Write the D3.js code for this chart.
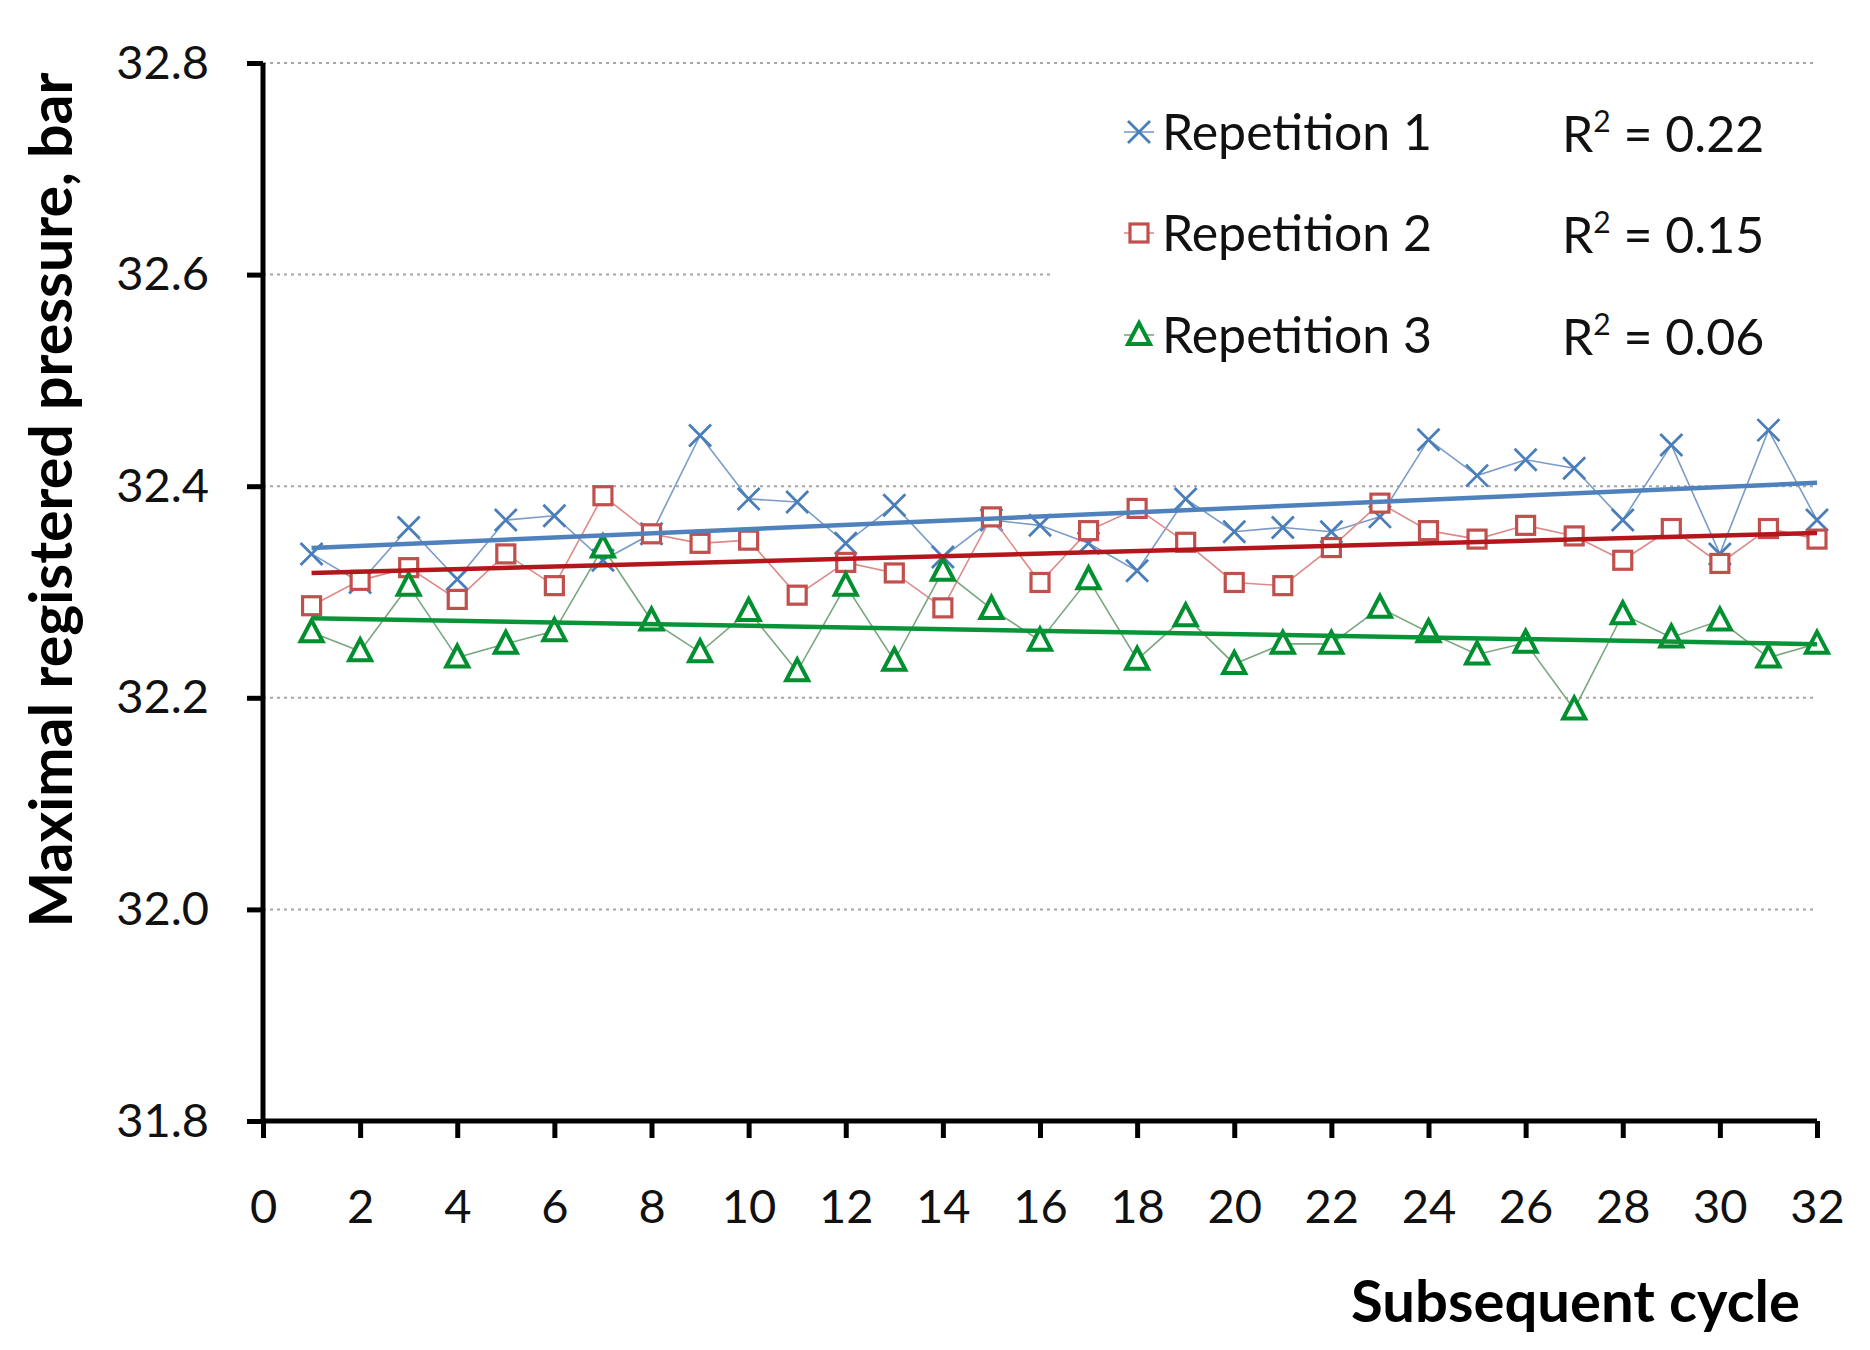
<!DOCTYPE html>
<html>
<head>
<meta charset="utf-8">
<script src="https://cdn.jsdelivr.net/npm/d3@7"></script>
<style>
  body { margin: 0; background: #fff; }
  text { font-family: Lato, "Open Sans", sans-serif; }
</style>
</head>
<body>
<div id="chart"></div>
<script>
const cycles = d3.range(1, 33);

const rep1 = [32.336, 32.309, 32.361, 32.312, 32.368, 32.372, 32.330, 32.355,
  32.448, 32.388, 32.385, 32.346, 32.382, 32.333, 32.368, 32.363,
  32.346, 32.320, 32.388, 32.357, 32.361, 32.357, 32.371, 32.444,
  32.410, 32.425, 32.417, 32.368, 32.439, 32.336, 32.453, 32.368];

const rep2 = [32.287, 32.311, 32.323, 32.293, 32.336, 32.306, 32.391, 32.355,
  32.346, 32.349, 32.297, 32.328, 32.318, 32.285, 32.371, 32.309,
  32.358, 32.379, 32.347, 32.309, 32.306, 32.342, 32.384, 32.358,
  32.350, 32.363, 32.353, 32.330, 32.360, 32.327, 32.360, 32.350];

const rep3 = [32.262, 32.244, 32.306, 32.238, 32.251, 32.263, 32.342, 32.273,
  32.243, 32.282, 32.225, 32.306, 32.235, 32.320, 32.284, 32.254,
  32.312, 32.236, 32.277, 32.232, 32.251, 32.251, 32.285, 32.262,
  32.241, 32.252, 32.189, 32.279, 32.257, 32.273, 32.238, 32.251];

const seriesNames = ['Repetition 1', 'Repetition 2', 'Repetition 3'];
const r2Labels = ['0.22', '0.15', '0.06'];
const xTicks = d3.range(0, 33, 2);
const yTicks = [31.8, 32.0, 32.2, 32.4, 32.6, 32.8];

const width = 1870, height = 1350;
const margin = { left: 263, right: 53, top: 63, bottom: 229 };

const svg = d3.select('#chart')
  .append('svg')
  .attr('width', width)
  .attr('height', height);

const x = d3.scaleLinear().domain([0, 32]).range([margin.left, width - margin.right]);
const y = d3.scaleLinear().domain([31.8, 32.8]).range([height - margin.bottom, margin.top]);

// gridlines
svg.append('g')
  .selectAll('line')
  .data(yTicks.slice(1))
  .enter()
  .append('line')
  .attr('x1', x(0))
  .attr('x2', x(32))
  .attr('y1', d => y(d))
  .attr('y2', d => y(d))
  .attr('stroke', '#a6a6a6')
  .attr('stroke-width', 2)
  .attr('stroke-dasharray', '3,4');

// legend box hides part of the grid
svg.append('rect')
  .attr('x', 1053)
  .attr('y', 82)
  .attr('width', x(32) - 1053 + 5)
  .attr('height', 290)
  .attr('fill', '#fff');

const styles = [
  { color: '#4a7ebb', line: '#7a9cc6', trend: '#4f81bd', shape: 'x' },
  { color: '#c0504d', line: '#dd8a88', trend: '#b3161b', shape: 'square' },
  { color: '#00902f', line: '#7aa77f', trend: '#0a9438', shape: 'triangle' }
];
const allSeries = [rep1, rep2, rep3];

function drawMarker(g, shape, color, cx, cy) {
  if (shape === 'x') {
    const s = 11;
    g.append('path')
      .attr('d', `M${cx - s},${cy - s}L${cx + s},${cy + s}M${cx - s},${cy + s}L${cx + s},${cy - s}`)
      .attr('stroke', color).attr('stroke-width', 2.8).attr('fill', 'none');
  } else if (shape === 'square') {
    g.append('rect')
      .attr('x', cx - 9).attr('y', cy - 9).attr('width', 18).attr('height', 18)
      .attr('stroke', color).attr('stroke-width', 3.2).attr('fill', '#fff');
  } else {
    g.append('path')
      .attr('d', `M${cx},${cy - 12}L${cx + 11},${cy + 9}L${cx - 11},${cy + 9}Z`)
      .attr('stroke', color).attr('stroke-width', 4).attr('fill', '#fff')
      .attr('stroke-linejoin', 'miter');
  }
}

const line = d3.line().x((d, i) => x(cycles[i])).y(d => y(d));

allSeries.forEach((vals, k) => {
  const g = svg.append('g');
  g.append('path')
    .attr('d', line(vals))
    .attr('fill', 'none')
    .attr('stroke', styles[k].line)
    .attr('stroke-width', 1.6);
  vals.forEach((v, i) => drawMarker(g, styles[k].shape, styles[k].color, x(cycles[i]), y(v)));
});

// linear trend lines
allSeries.forEach((vals, k) => {
  const mx = d3.mean(cycles), my = d3.mean(vals);
  const b = d3.sum(cycles, (c, i) => (c - mx) * (vals[i] - my)) / d3.sum(cycles, c => (c - mx) ** 2);
  const a = my - b * mx;
  svg.append('line')
    .attr('x1', x(1)).attr('y1', y(a + b * 1))
    .attr('x2', x(32)).attr('y2', y(a + b * 32))
    .attr('stroke', styles[k].trend)
    .attr('stroke-width', 4.5);
});

// axes
const yAxis = svg.append('g')
  .attr('transform', `translate(${x(0)},0)`)
  .call(d3.axisLeft(y).tickValues(yTicks).tickFormat(d3.format('.1f')).tickSize(16).tickPadding(38));
const xAxis = svg.append('g')
  .attr('transform', `translate(0,${y(31.8)})`)
  .call(d3.axisBottom(x).tickValues(xTicks).tickSize(17).tickPadding(52));

[xAxis, yAxis].forEach(ax => {
  ax.select('.domain').attr('stroke', '#000').attr('stroke-width', 5);
  ax.selectAll('.tick line').attr('stroke', '#000').attr('stroke-width', 5);
  ax.selectAll('.tick text')
    .attr('fill', '#111')
    .style('font-size', '47px')
    .style('font-family', 'Lato, "Open Sans", sans-serif');
});
yAxis.select('.domain').attr('d', `M0,${y(32.8)}V${y(31.8)}`);
xAxis.select('.domain').attr('d', `M${x(0)},0H${x(32)}`);

// axis titles
svg.append('text')
  .attr('transform', 'translate(72,500) rotate(-90)')
  .attr('text-anchor', 'middle')
  .style('font-size', '59px')
  .style('font-weight', 'bold')
  .text('Maximal registered pressure, bar');

svg.append('text')
  .attr('x', 1800)
  .attr('y', 1322)
  .attr('text-anchor', 'end')
  .style('font-size', '58px')
  .style('font-weight', 'bold')
  .text('Subsequent cycle');

// legend
const legendY = [132, 233, 335];
seriesNames.forEach((name, k) => {
  const g = svg.append('g');
  g.append('line')
    .attr('x1', 1124).attr('x2', 1154)
    .attr('y1', legendY[k]).attr('y2', legendY[k])
    .attr('stroke', styles[k].line).attr('stroke-width', 1.6);
  drawMarker(g, styles[k].shape, styles[k].color, 1139, legendY[k]);
  g.append('text')
    .attr('x', 1162)
    .attr('y', legendY[k] + 18)
    .style('font-size', '50px')
    .attr('fill', '#111')
    .text(name);
  const t = g.append('text')
    .attr('x', 1562)
    .attr('y', legendY[k] + 20)
    .style('font-size', '50px')
    .attr('fill', '#111');
  t.append('tspan').text('R');
  t.append('tspan').attr('dy', -20).style('font-size', '30px').text('2');
  t.append('tspan').attr('dy', 20).text(' = ' + r2Labels[k]);
});
</script>
</body>
</html>
